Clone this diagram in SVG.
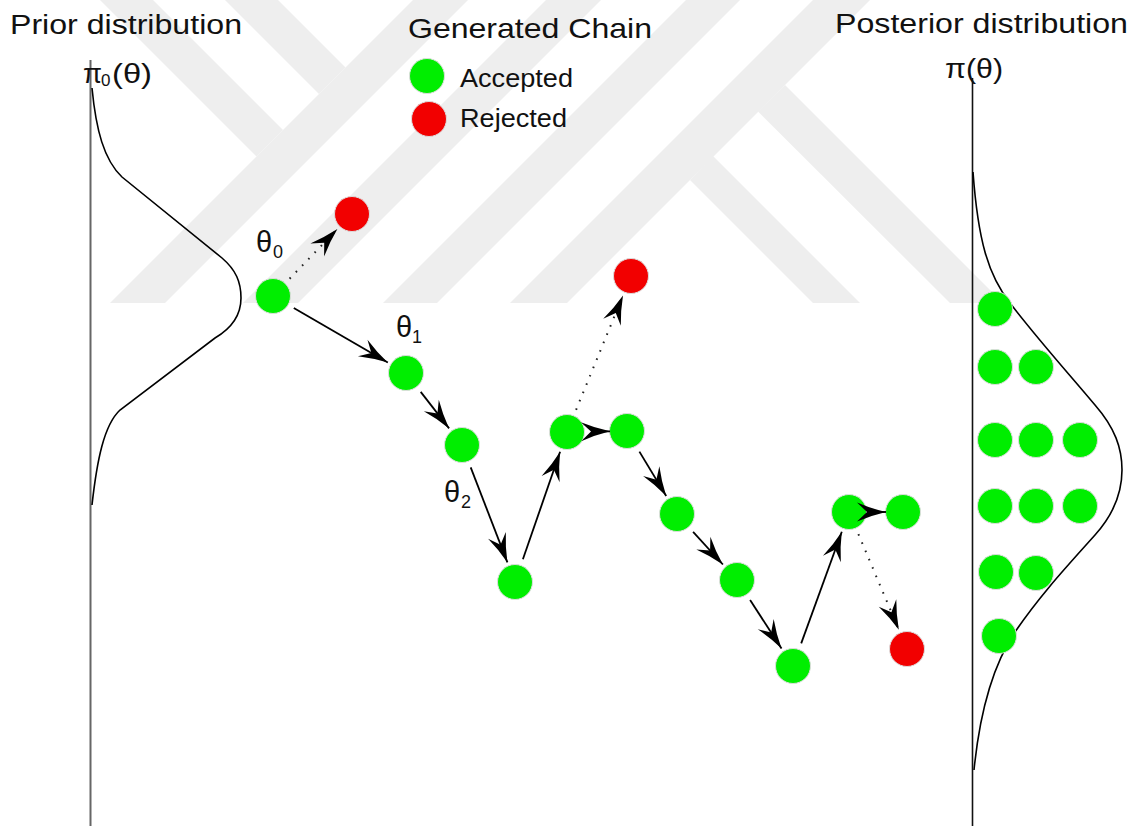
<svg xmlns="http://www.w3.org/2000/svg" width="1136" height="826" viewBox="0 0 1136 826">
  <style>
    .wm { fill: #eeeeee; }
    .lbl { font-family: "Liberation Sans", Arial, sans-serif; fill: #111; }
    .acc { fill: #00ee00; stroke: #dddddd; stroke-width: 1; }
    .rej { fill: #f20000; stroke: #dddddd; stroke-width: 1; }
    .edge { fill: none; stroke: #000; stroke-width: 1.8; }
    .prop { fill: none; stroke: #222; stroke-width: 2; stroke-dasharray: 1.6 7.4; }
    .pdf { fill: none; stroke: #000; stroke-width: 1.6; }
  </style>
  <defs>
    <marker id="head" markerUnits="userSpaceOnUse" markerWidth="32" markerHeight="22" refX="29" refY="9.5" orient="auto" overflow="visible">
      <path d="M0,0 Q14,6 29,9.5 Q14,13 0,19 L10,9.5 Z" fill="#000"/>
    </marker>
  </defs>
  <rect width="1136" height="826" fill="#fff"/>

  <!-- light background emblem -->
  <g id="emblem">
    <polygon class="wm" points="110,303 165,303 468,0 413,0"/>
    <polygon class="wm" points="243,303 298,303 601,0 546,0"/>
    <polygon class="wm" points="383,303 437,303 740,0 686,0"/>
    <polygon class="wm" points="510,303 567,303 870,0 813,0"/>
    <polygon class="wm" points="100,0 153,0 283,130 256.5,156.5"/>
    <polygon class="wm" points="225,0 278,0 345.5,67.5 319,94"/>
    <polygon class="wm" points="758,111.5 785,85 1003,303 950,303"/>
    <polygon class="wm" points="690,180 713,156 860,303 813,303"/>
  </g>

  <!-- titles -->
  <g id="titles">
    <text class="lbl" x="10" y="34" font-size="27.5" textLength="232" lengthAdjust="spacingAndGlyphs">Prior distribution</text>
    <text class="lbl" x="408" y="38" font-size="28" textLength="244" lengthAdjust="spacingAndGlyphs">Generated Chain</text>
    <text class="lbl" x="835" y="33" font-size="27.5" textLength="293" lengthAdjust="spacingAndGlyphs">Posterior distribution</text>
  </g>

  <!-- legend -->
  <g id="legend">
    <circle class="acc" cx="427" cy="76" r="17.5"/>
    <text class="lbl" x="460" y="87" font-size="25" textLength="113" lengthAdjust="spacingAndGlyphs">Accepted</text>
    <circle class="rej" cx="429" cy="119" r="17.5"/>
    <text class="lbl" x="460" y="127" font-size="25" textLength="107" lengthAdjust="spacingAndGlyphs">Rejected</text>
  </g>

  <!-- prior density -->
  <g id="prior">
    <line x1="90.5" y1="60" x2="90.5" y2="826" stroke="#666" stroke-width="2"/>
    <path class="pdf" d="M92,88 C96,130 104,160 122,177 L222,258 C236,270 241,282 241,298 C241,315 232,328 215,338 L120,410 C104,425 97,460 92,505"/>
    <text class="lbl" x="83" y="83" font-size="28" textLength="19" lengthAdjust="spacingAndGlyphs">π</text>
    <text class="lbl" x="101" y="86" font-size="17">0</text>
    <text class="lbl" x="112" y="83" font-size="28" textLength="40" lengthAdjust="spacingAndGlyphs">(θ)</text>
  </g>

  <!-- posterior density -->
  <g id="posterior">
    <line x1="972.5" y1="78" x2="972.5" y2="826" stroke="#111" stroke-width="1.6"/>
    <path class="pdf" d="M973,172 C978,240 988,275 1010,303 C1040,342 1070,375 1095,405 C1115,428 1122,448 1122,470 C1122,495 1113,515 1095,535 C1070,563 1040,595 1015,632 C993,665 980,710 974,770"/>
    <text class="lbl" x="945" y="78" font-size="28" textLength="58" lengthAdjust="spacingAndGlyphs">π(θ)</text>
    <circle class="acc" cx="995" cy="309" r="17.5"/>
    <circle class="acc" cx="995" cy="367" r="17.5"/>
    <circle class="acc" cx="1036" cy="367" r="17.5"/>
    <circle class="acc" cx="995" cy="440" r="17.5"/>
    <circle class="acc" cx="1036" cy="440" r="17.5"/>
    <circle class="acc" cx="1080" cy="440" r="17.5"/>
    <circle class="acc" cx="995" cy="506" r="17.5"/>
    <circle class="acc" cx="1036" cy="506" r="17.5"/>
    <circle class="acc" cx="1080" cy="506" r="17.5"/>
    <circle class="acc" cx="996" cy="572" r="17.5"/>
    <circle class="acc" cx="1036" cy="573" r="17.5"/>
    <circle class="acc" cx="999" cy="636" r="17.5"/>
  </g>

  <!-- chain states -->
  <g id="n0"><circle class="acc" cx="273" cy="296" r="17.5"/></g>
  <g id="r0"><circle class="rej" cx="352" cy="214" r="17.5"/></g>
  <g id="n1"><circle class="acc" cx="406" cy="373" r="17.5"/></g>
  <g id="n2"><circle class="acc" cx="462" cy="445" r="17.5"/></g>
  <g id="n3"><circle class="acc" cx="515" cy="582" r="17.5"/></g>
  <g id="n4"><circle class="acc" cx="567" cy="432" r="17.5"/></g>
  <g id="r1"><circle class="rej" cx="631" cy="276" r="17.5"/></g>
  <g id="n5"><circle class="acc" cx="627" cy="431" r="17.5"/></g>
  <g id="n6"><circle class="acc" cx="677" cy="514" r="17.5"/></g>
  <g id="n7"><circle class="acc" cx="737" cy="580" r="17.5"/></g>
  <g id="n8"><circle class="acc" cx="793" cy="666" r="17.5"/></g>
  <g id="n9"><circle class="acc" cx="849" cy="512" r="17.5"/></g>
  <g id="n10"><circle class="acc" cx="903" cy="512" r="17.5"/></g>
  <g id="r2"><circle class="rej" cx="907" cy="649" r="17.5"/></g>

  <!-- state labels -->
  <g id="theta-labels">
    <text class="lbl" x="256" y="252" font-size="29">θ</text>
    <text class="lbl" x="273" y="258" font-size="18">0</text>
    <text class="lbl" x="396" y="337" font-size="29">θ</text>
    <text class="lbl" x="412" y="343" font-size="18">1</text>
    <text class="lbl" x="444" y="502" font-size="29">θ</text>
    <text class="lbl" x="461" y="508" font-size="18">2</text>
  </g>

  <!-- transitions -->
  <g id="connectors">
    <line class="edge" x1="293.8" y1="308.0" x2="387.8" y2="362.5" marker-end="url(#head)"/>
    <line class="prop" x1="289.6" y1="278.7" x2="337.4" y2="229.1" marker-end="url(#head)"/>
    <line class="edge" x1="420.7" y1="391.9" x2="449.1" y2="428.4" marker-end="url(#head)"/>
    <line class="edge" x1="470.7" y1="467.4" x2="507.4" y2="562.4" marker-end="url(#head)"/>
    <line class="edge" x1="522.9" y1="559.3" x2="560.1" y2="451.8" marker-end="url(#head)"/>
    <line class="prop" x1="576.1" y1="409.8" x2="623.0" y2="295.4" marker-end="url(#head)"/>
    <line class="edge" x1="591" y1="431.6" x2="610" y2="431.3" marker-end="url(#head)"/>
    <line class="edge" x1="639.4" y1="451.6" x2="666.2" y2="496.0" marker-end="url(#head)"/>
    <line class="edge" x1="693.1" y1="531.8" x2="722.9" y2="564.5" marker-end="url(#head)"/>
    <line class="edge" x1="750.1" y1="600.1" x2="781.5" y2="648.4" marker-end="url(#head)"/>
    <line class="edge" x1="801.2" y1="643.4" x2="841.8" y2="531.7" marker-end="url(#head)"/>
    <line class="edge" x1="873" y1="512" x2="886" y2="512" marker-end="url(#head)"/>
    <line class="prop" x1="858.4" y1="534.1" x2="898.8" y2="629.7" marker-end="url(#head)"/>
  </g>
</svg>
